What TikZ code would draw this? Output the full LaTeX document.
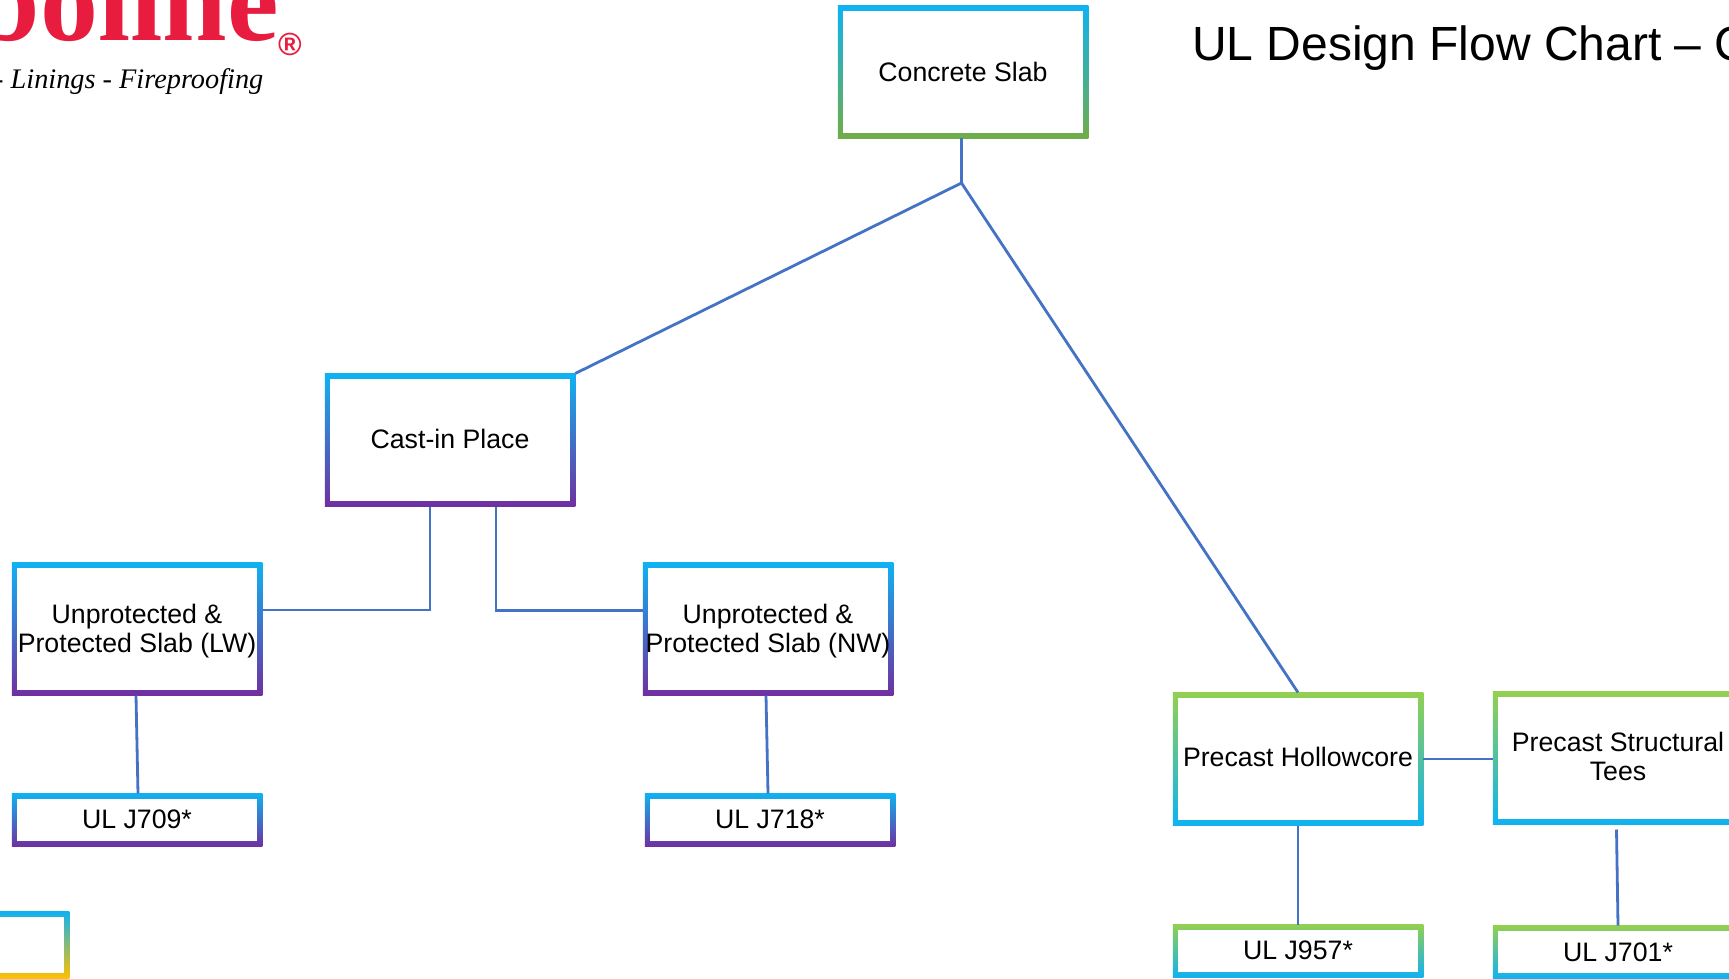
\documentclass[tikz,border=0pt]{standalone}
\usepackage{fontspec}
\setmainfont{Liberation Sans}
\newfontfamily\logofont{Liberation Serif}
\definecolor{skyblue}{HTML}{0FB2F2}
\definecolor{leaf}{HTML}{92D050}
\definecolor{darkleaf}{HTML}{70AD47}
\definecolor{plum}{HTML}{7030A0}
\definecolor{amber}{HTML}{FFC000}
\definecolor{wire}{HTML}{4472C4}
\definecolor{logored}{HTML}{E81C3E}
\tikzset{
  gradbox/.style n args={3}{
    rectangle, inner sep=0pt, outer sep=0pt, align=center,
    minimum width=250.5pt, minimum height=#3,
    top color=#1, bottom color=#2,
    font=\fontsize{26.7}{29}\selectfont,
    path picture={\fill[white]
      ([shift={(5.5pt,-5.5pt)}]path picture bounding box.north west) rectangle
      ([shift={(-5.5pt,5.5pt)}]path picture bounding box.south east);}
  },
  wired/.style={draw=wire, line width=2.8pt}
}
\begin{document}
\begin{tikzpicture}[x=1pt,y=-1pt]

      \useasboundingbox (0,0) rectangle (1729,979);

      % logo and title
      \node[anchor=base east, text=logored, font=\logofont\bfseries\fontsize{116}{116}\selectfont, inner sep=0pt] (logo) at (279,41) {boline};
      \node[text=logored, font=\bfseries\fontsize{32}{32}\selectfont, inner sep=0pt] (reg) at (290,44) {\textregistered};
      \node[anchor=base west, font=\logofont\itshape\fontsize{28.3}{28.3}\selectfont, inner sep=0pt] (tagline) at (-6,89) {- Linings - Fireproofing};
      \node[anchor=base west, font=\fontsize{48}{48}\selectfont, inner sep=0pt] (title) at (1192,61) {UL Design Flow Chart -- C};

      \begin{scope}[every node/.style={gradbox={skyblue}{plum}{133pt}}]
        \node[text depth=1.5pt] (cast) at (450,440) {Cast-in Place};
        \node[text depth=1.5pt] (lw)   at (137,629) {Unprotected \&\\Protected Slab (LW)};
        \node[text depth=1.5pt] (nw)   at (768,629) {Unprotected \&\\Protected Slab (NW)};
      \end{scope}

      \begin{scope}[every node/.style={gradbox={skyblue}{plum}{53pt}}]
        \node[text depth=2pt] (j709) at (137,820) {UL J709*};
        \node[text depth=2pt] (j718) at (770,820) {UL J718*};
      \end{scope}

      \begin{scope}[every node/.style={gradbox={leaf}{skyblue}{133pt}}]
        \node[text depth=4pt] (hollow) at (1298,759) {Precast Hollowcore};
        \node[text depth=4pt] (tees)   at (1618,758) {Precast Structural\\Tees};
      \end{scope}

      \begin{scope}[every node/.style={gradbox={leaf}{skyblue}{53pt}}]
        \node[text depth=2pt] (j957) at (1298,951) {UL J957*};
        \node (j701) at (1618,952) {UL J701*};
      \end{scope}

      \node[gradbox={skyblue}{darkleaf}{133pt}] (slab) at (963,72) {Concrete Slab};
      \node[gradbox={skyblue}{amber}{67pt}] (spare) at (-56,944.5) {};

      \coordinate (fork) at (961.5,183);

      \begin{scope}[every path/.style={wired}]
        \path ([xshift=-1.5pt]slab.south) edge (fork);
        \path (fork) edge (cast.north east);
        \path (fork) edge (hollow.north);
        \draw ([xshift=-20pt]cast.south) |- ([yshift=19pt]lw.east);
        \draw ([xshift=46pt]cast.south) |- ([yshift=18.5pt]nw.west);
        \path ([xshift=-1pt]lw.south) edge ([xshift=1pt]j709.north);
        \path ([xshift=-2pt]nw.south) edge ([xshift=-2pt]j718.north);
        \path (hollow.east) edge (tees.west |- hollow.east);
        \path (hollow.south) edge (j957.north);
        \path ([xshift=-1.5pt,yshift=-5pt]tees.south) edge (j701.north);
      \end{scope}

    \end{tikzpicture}
\end{document}
